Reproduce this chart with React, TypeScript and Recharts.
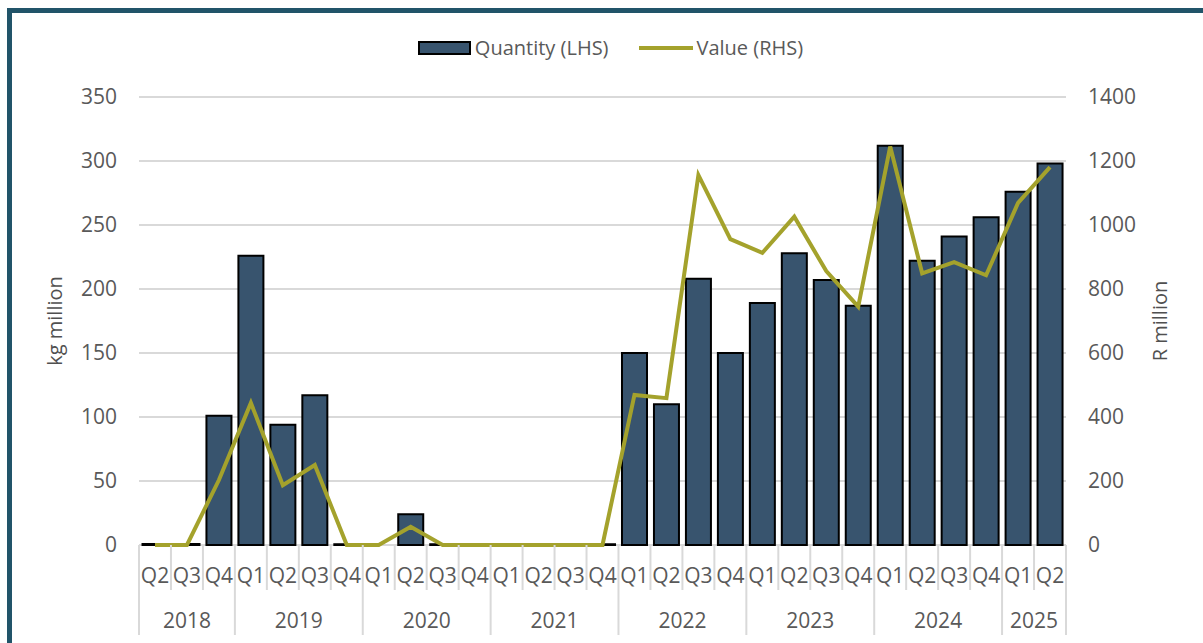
import React from 'react';
import { ComposedChart, Bar, Line, XAxis, YAxis, CartesianGrid } from 'recharts';

const years = [
  '2018', '2018', '2018',
  '2019', '2019', '2019', '2019',
  '2020', '2020', '2020', '2020',
  '2021', '2021', '2021', '2021',
  '2022', '2022', '2022', '2022',
  '2023', '2023', '2023', '2023',
  '2024', '2024', '2024', '2024',
  '2025', '2025',
];
const quarters = [
  'Q2', 'Q3', 'Q4',
  'Q1', 'Q2', 'Q3', 'Q4',
  'Q1', 'Q2', 'Q3', 'Q4',
  'Q1', 'Q2', 'Q3', 'Q4',
  'Q1', 'Q2', 'Q3', 'Q4',
  'Q1', 'Q2', 'Q3', 'Q4',
  'Q1', 'Q2', 'Q3', 'Q4',
  'Q1', 'Q2',
];
// kg million
const quantity = [
  0.8, 0.8, 101,
  226, 94, 117, 0.6,
  0, 24, 0.6, 0,
  0, 0, 0, 0.6,
  150, 110, 208, 150,
  189, 228, 207, 187,
  312, 222, 241, 256,
  276, 298,
];
// R million
const value = [
  0, 0, 203,
  444, 187, 250, 0,
  0, 57, 0, 0,
  0, 0, 0, 0,
  469, 459, 1156, 956,
  913, 1026, 856, 745,
  1245, 849, 884, 843,
  1069, 1181,
];
const leftTicks = [0, 50, 100, 150, 200, 250, 300, 350];
const rightTicks = [0, 200, 400, 600, 800, 1000, 1200, 1400];

const data = quarters.map((q, i) => ({
  period: `${years[i]} ${q}`,
  quantity: quantity[i],
  value: value[i],
}));

const W = 1203;
const H = 643;
const LEFT = 139;
const RIGHT = 137;
const TOP = 97;
const BOTTOM = 98;
const BAND = (W - LEFT - RIGHT) / data.length;

const BAR = '#38546E';
const LINE = '#A4A22C';
const TEXT = '#595959';
const GRID = '#D9D9D9';
const FONT = '"Open Sans", sans-serif';

const PeriodTick = (props: any) => {
  const { x, y, payload } = props;
  const i = payload.index;
  const yr = years[i];
  const first = i === 0 || years[i - 1] !== yr;
  const last = i === data.length - 1;
  let count = 0;
  if (first) {
    while (i + count < years.length && years[i + count] === yr) count++;
  }
  const left = x - BAND / 2;
  return (
    <g>
      <line x1={left} x2={left} y1={y} y2={y + (first ? 90 : 45)} stroke={GRID} strokeWidth={2} />
      {last && (
        <line x1={x + BAND / 2} x2={x + BAND / 2} y1={y} y2={y + 90} stroke={GRID} strokeWidth={2} />
      )}
      <text x={x} y={y + 38} textAnchor="middle" fill={TEXT} fontSize={21} fontFamily={FONT}>
        {quarters[i]}
      </text>
      {first && (
        <text x={left + (count * BAND) / 2} y={y + 83} textAnchor="middle" fill={TEXT} fontSize={21} fontFamily={FONT}>
          {yr}
        </text>
      )}
    </g>
  );
};

export default function App() {
  return (
    <div style={{ position: 'absolute', left: 0, top: 0, width: W, height: H, overflow: 'hidden', background: '#fff' }}>
      <div
        style={{
          position: 'absolute',
          left: 7,
          top: 8,
          width: W,
          height: H,
          borderTop: '5px solid #215469',
          borderLeft: '5px solid #215469',
        }}
      />
      <div
        style={{
          position: 'absolute',
          top: 34,
          left: 0,
          width: W,
          display: 'flex',
          justifyContent: 'center',
          alignItems: 'center',
          fontFamily: FONT,
          fontSize: 20,
          color: TEXT,
          paddingLeft: 18,
          boxSizing: 'border-box',
        }}
      >
        <span style={{ display: 'inline-block', width: 49, height: 10, background: BAR, border: '2px solid #000', marginRight: 4 }} />
        <span style={{ marginRight: 30 }}>Quantity (LHS)</span>
        <span style={{ display: 'inline-block', width: 54, height: 4, background: LINE, marginRight: 4 }} />
        <span>Value (RHS)</span>
      </div>
      <div style={{ position: 'absolute', left: 0, top: 0 }}>
        <ComposedChart
          width={W}
          height={H}
          data={data}
          margin={{ top: TOP, right: 0, bottom: 0, left: 0 }}
          barCategoryGap="11%"
        >
          <CartesianGrid yAxisId="left" vertical={false} stroke={GRID} strokeWidth={2} />
          <XAxis
            dataKey="period"
            height={BOTTOM}
            interval={0}
            tickLine={false}
            axisLine={false}
            tickSize={0}
            tickMargin={0}
            tick={<PeriodTick />}
          />
          <YAxis
            yAxisId="left"
            width={LEFT}
            domain={[0, 350]}
            ticks={leftTicks}
            tickLine={false}
            axisLine={false}
            tickSize={0}
            tickMargin={22}
            tick={{ fill: TEXT, fontSize: 21, fontFamily: FONT }}
            label={{ value: 'kg million', angle: -90, position: 'center', dx: -15, fill: '#505050', fontSize: 20, fontFamily: FONT }}
          />
          <YAxis
            yAxisId="right"
            orientation="right"
            width={RIGHT}
            domain={[0, 1400]}
            ticks={rightTicks}
            tickLine={false}
            axisLine={false}
            tickSize={0}
            tickMargin={22}
            tick={{ fill: TEXT, fontSize: 21, fontFamily: FONT, textAnchor: 'start' }}
            label={{ value: 'R million', angle: -90, position: 'center', dx: 25, fill: '#505050', fontSize: 20, fontFamily: FONT }}
          />
          <Bar
            yAxisId="left"
            dataKey="quantity"
            name="Quantity (LHS)"
            fill={BAR}
            stroke="#000"
            strokeWidth={2}
            isAnimationActive={false}
          />
          <Line
            yAxisId="right"
            dataKey="value"
            name="Value (RHS)"
            type="linear"
            stroke={LINE}
            strokeWidth={4}
            dot={false}
            activeDot={false}
            isAnimationActive={false}
          />
        </ComposedChart>
      </div>
    </div>
  );
}
